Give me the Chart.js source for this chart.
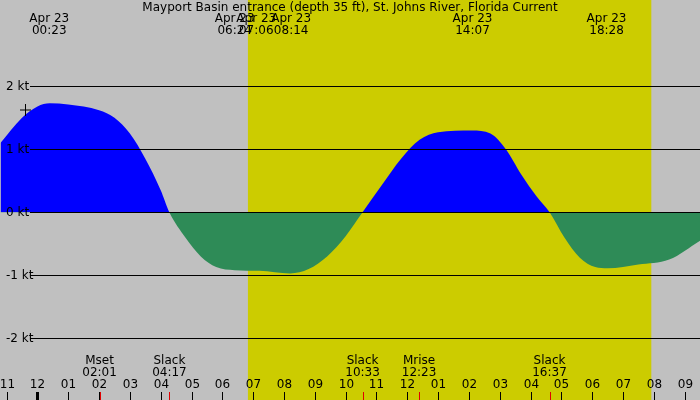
<!DOCTYPE html>
<html lang="en">
<head>
<meta charset="UTF-8">
<title>Mayport Basin entrance current</title>
<script src="https://cdn.jsdelivr.net/npm/chart.js"></script>
<style>
  body { margin: 0; background: #c0c0c0; }
  canvas { display: block; }
</style>
</head>
<body>
<canvas id="tideChart" width="700" height="400"></canvas>
<script>
// hours since midnight Apr 23, current speed in knots
const hours = [-1.2, -0.5, 0, 0.4, 1, 2, 2.5, 3, 3.5, 4, 4.28, 4.8, 5.3, 5.8, 6.4, 7.2, 8.2, 8.8, 9.4, 10, 10.55,
  11.2, 11.8, 12.4, 13, 14.1, 14.7, 15.2, 15.7, 16.2, 16.62, 17.1, 17.6, 18.1, 18.5, 19.5, 20.5, 21.5];
const knots = [1.1, 1.5, 1.68, 1.73, 1.71, 1.62, 1.5, 1.25, 0.85, 0.35, 0, -0.4, -0.7, -0.87, -0.92, -0.93, -0.97, -0.9, -0.7, -0.38, 0,
  0.45, 0.85, 1.15, 1.27, 1.3, 1.25, 1.0, 0.6, 0.25, 0, -0.4, -0.72, -0.87, -0.89, -0.83, -0.75, -0.45];

const yTicks = [-2, -1, 0, 1, 2];
const hourTicks = [-1, 0, 1, 2, 3, 4, 5, 6, 7, 8, 9, 10, 11, 12, 13, 14, 15, 16, 17, 18, 19, 20, 21];
const daylight = [6.83, 19.92];

const topEvents = [
  { t: 0.383, label: '00:23' }, { t: 6.4, label: '06:24' }, { t: 7.1, label: '07:06' },
  { t: 8.233, label: '08:14' }, { t: 14.117, label: '14:07' }, { t: 18.467, label: '18:28' }
];
const bottomEvents = [
  { t: 2.017, name: 'Mset', label: '02:01' }, { t: 4.283, name: 'Slack', label: '04:17' },
  { t: 10.55, name: 'Slack', label: '10:33' }, { t: 12.383, name: 'Mrise', label: '12:23' },
  { t: 16.617, name: 'Slack', label: '16:37' }
];

const decor = {
  id: 'decor',
  beforeDraw(chart) {
    const { ctx, scales: { x, y } } = chart;
    ctx.save();
    ctx.fillStyle = '#c0c0c0';
    ctx.fillRect(0, 0, 700, 400);
    ctx.fillStyle = '#cccc00';
    ctx.fillRect(x.getPixelForValue(daylight[0]), 0,
      x.getPixelForValue(daylight[1]) - x.getPixelForValue(daylight[0]), 400);
    ctx.restore();
  },
  afterDatasetsDraw(chart) {
    const { ctx, scales: { x, y } } = chart;
    ctx.save();
    ctx.font = '12px "DejaVu Sans", sans-serif';
    ctx.fillStyle = '#000';
    ctx.strokeStyle = '#000';
    ctx.lineWidth = 1;
    // knot lines
    yTicks.forEach(v => {
      const py = Math.round(y.getPixelForValue(v)) + 0.5;
      ctx.beginPath(); ctx.moveTo(30, py); ctx.lineTo(700, py); ctx.stroke();
      ctx.textAlign = 'left'; ctx.textBaseline = 'middle';
      ctx.fillText(v + ' kt', 6, py);
    });
    // plus marker
    ctx.beginPath();
    ctx.moveTo(20, 110); ctx.lineTo(31, 110); ctx.moveTo(25.5, 104); ctx.lineTo(25.5, 116); ctx.stroke();
    // title
    ctx.textAlign = 'center'; ctx.textBaseline = 'middle';
    ctx.fillText('Mayport Basin entrance (depth 35 ft), St. Johns River, Florida Current', 350, 8);
    topEvents.forEach(e => {
      const px = x.getPixelForValue(e.t);
      ctx.fillText('Apr 23', px, 19);
      ctx.fillText(e.label, px, 31);
    });
    bottomEvents.forEach(e => {
      const px = x.getPixelForValue(e.t);
      ctx.fillText(e.name, px, 361);
      ctx.fillText(e.label, px, 373);
      ctx.strokeStyle = '#e00000';
      ctx.beginPath(); ctx.moveTo(Math.round(px) + 0.5, 392); ctx.lineTo(Math.round(px) + 0.5, 400); ctx.stroke();
    });
    ctx.strokeStyle = '#000';
    hourTicks.forEach(h => {
      const px = Math.round(x.getPixelForValue(h)) + 0.5;
      const hh = ((h % 12) + 12) % 12 || 12;
      ctx.fillText(String(hh).padStart(2, '0'), px, 385);
      ctx.lineWidth = h === 0 ? 3 : 1;
      ctx.beginPath(); ctx.moveTo(px, 392); ctx.lineTo(px, 400); ctx.stroke();
    });
    ctx.restore();
  }
};

new Chart(document.getElementById('tideChart'), {
  type: 'line',
  data: {
    datasets: [{
      data: hours.map((h, i) => ({ x: h, y: knots[i] })),
      borderWidth: 0,
      pointRadius: 0,
      cubicInterpolationMode: 'monotone',
      fill: { target: 'origin', above: '#0000ff', below: '#2e8b57' }
    }]
  },
  options: {
    responsive: false,
    animation: false,
    layout: { padding: 0 },
    plugins: { legend: { display: false }, tooltip: { enabled: false } },
    scales: {
      x: { type: 'linear', min: -1.215, max: 21.5, display: false },
      y: { min: -2.98, max: 3.37, display: false }
    }
  },
  plugins: [decor]
});
</script>
</body>
</html>
